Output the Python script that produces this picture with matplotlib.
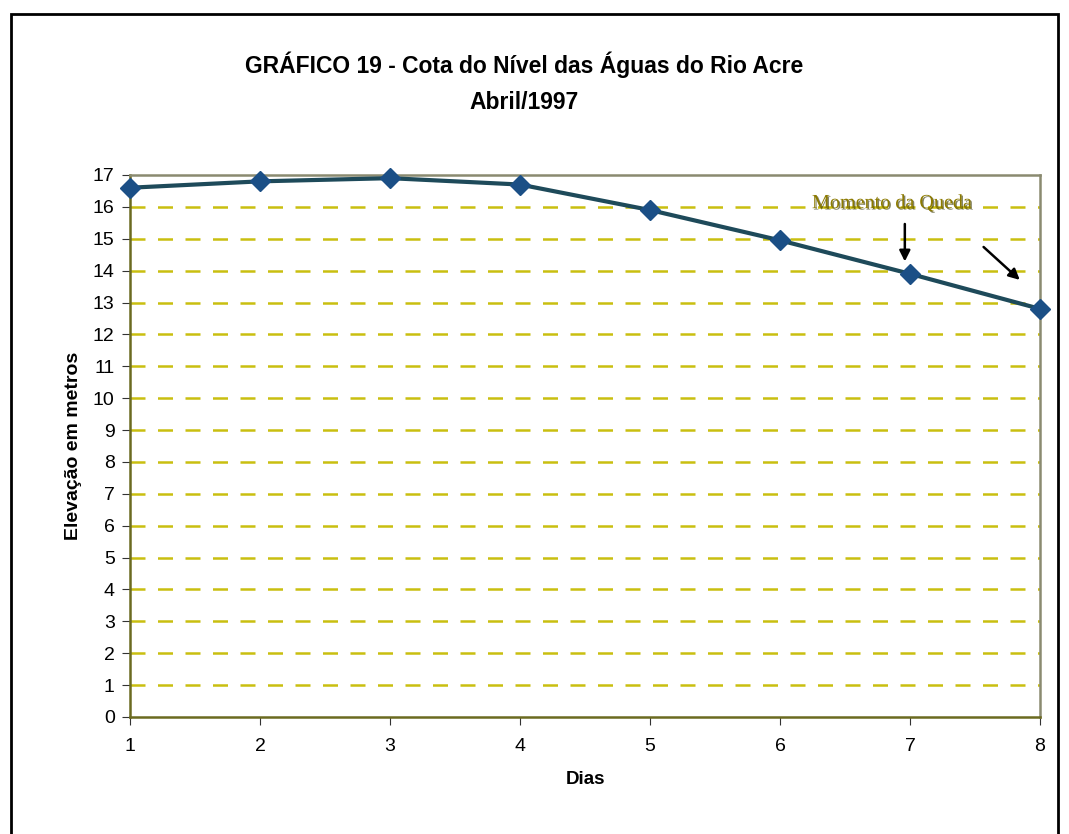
import matplotlib
matplotlib.use("Agg")
import matplotlib.pyplot as plt
import matplotlib.patheffects as pe
from matplotlib.patches import Rectangle

# data
dias = [1, 2, 3, 4, 5, 6, 7, 8]
cota = [16.6, 16.8, 16.9, 16.7, 15.9, 14.95, 13.9, 12.8]
y_ticks = list(range(0, 18))

plt.rcParams['font.family'] = ['Liberation Sans', 'DejaVu Sans']

fig = plt.figure(figsize=(10.69, 8.34), dpi=100)
ax = fig.add_axes([0.1216, 0.1403, 0.8513, 0.6499])

# outer frame of the figure
fig.patches.append(Rectangle((0.010, -0.05), 0.980, 1.033, transform=fig.transFigure,
                             fill=False, edgecolor='black', linewidth=2))

ax.plot(dias, cota, color='#1e4a5a', linewidth=3, marker='D', markersize=10,
        markerfacecolor='#1b4f86', markeredgecolor='#1b4f86', zorder=5, clip_on=False)

ax.set_xlim(1, 8)
ax.set_ylim(0, 17)
ax.set_xticks(dias)
ax.set_yticks(y_ticks)
for yv in y_ticks[1:-1]:
    ax.axhline(yv, color='#c9bf10', linestyle=(0, (6, 5)), linewidth=1.8, zorder=1)

ax.tick_params(axis='both', labelsize=14, direction='out', length=6, color='#333333', pad=5)
ax.tick_params(axis='x', pad=9)
for side in ['left', 'bottom']:
    ax.spines[side].set_color('#6b6a20')
    ax.spines[side].set_linewidth(1.8)
for side in ['top', 'right']:
    ax.spines[side].set_color('#8a8a70')
    ax.spines[side].set_linewidth(1.8)

ax.set_xlabel('Dias', fontsize=13.5, fontweight='bold', labelpad=12)
ax.set_ylabel('Elevação em metros', fontsize=14, fontweight='bold', labelpad=8)

fig.text(0.49, 0.9005, 'GRÁFICO 19 - Cota do Nível das Águas do Rio Acre\nAbril/1997',
         ha='center', va='center', fontsize=16.5, fontweight='bold', linespacing=1.7)

ax.text(6.86, 16.1, 'Momento da Queda', family=['Liberation Serif'], fontsize=14.5,
        color='#8c7a00', ha='center', va='center', zorder=6,
        path_effects=[pe.withSimplePatchShadow(offset=(1, -1), shadow_rgbFace='#333300', alpha=0.6)])
ax.annotate('', xy=(6.96, 14.2), xytext=(6.96, 15.55),
            arrowprops=dict(arrowstyle='-|>', color='black', lw=1.8, mutation_scale=16), zorder=6)
ax.annotate('', xy=(7.86, 13.65), xytext=(7.55, 14.8),
            arrowprops=dict(arrowstyle='-|>', color='black', lw=1.8, mutation_scale=16), zorder=6)

fig.savefig('out.png', dpi=100)
